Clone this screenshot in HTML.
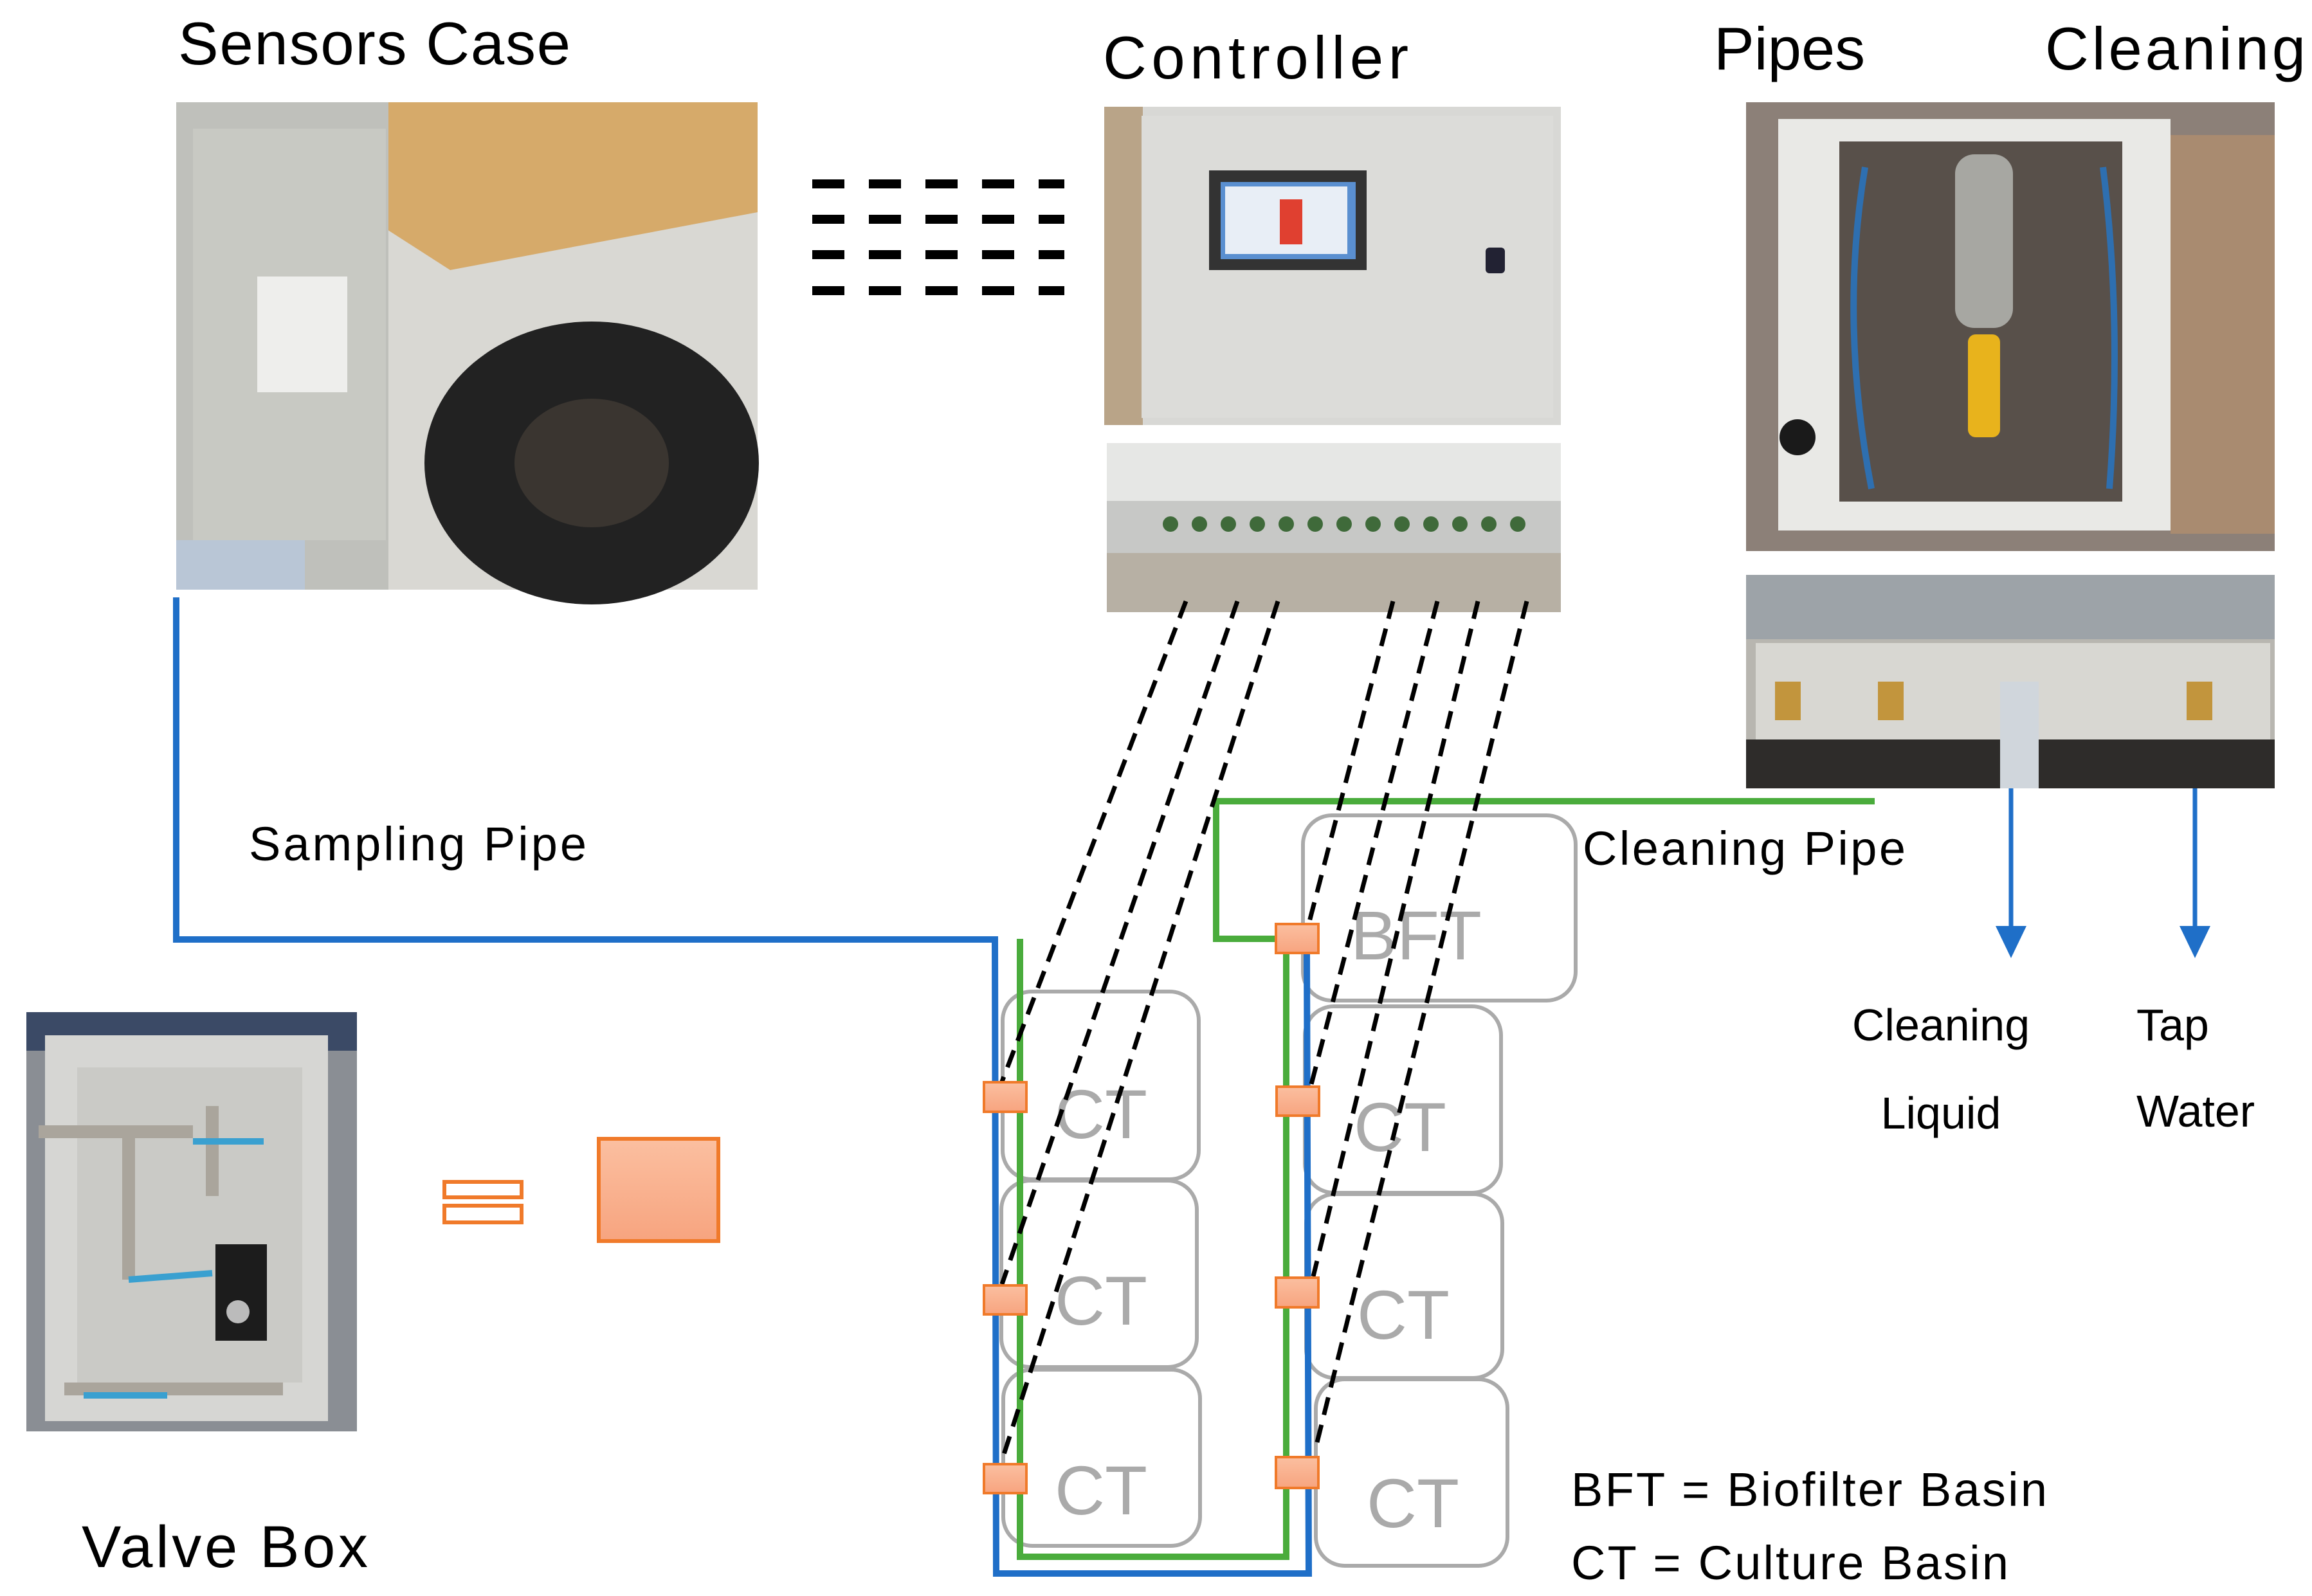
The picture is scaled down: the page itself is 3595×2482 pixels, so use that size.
<!DOCTYPE html>
<html><head><meta charset="utf-8"><style>
html,body{margin:0;padding:0;background:#fff;}
svg{display:block;}
text{font-family:"Liberation Sans",sans-serif;}
</style></head><body>
<svg width="3595" height="2482" viewBox="0 0 3595 2482" xmlns="http://www.w3.org/2000/svg">
<defs>
<linearGradient id="og" x1="0" y1="0" x2="0" y2="1"><stop offset="0" stop-color="#fbbfa0"/><stop offset="1" stop-color="#f7a47f"/></linearGradient>
</defs>
<!-- Titles -->
<text x="277" y="100" font-size="94" fill="#000" textLength="610">Sensors Case</text>
<text x="1715" y="122" font-size="94" fill="#000" textLength="475">Controller</text>
<text x="2665" y="108" font-size="94" fill="#000">Pipes</text>
<text x="3180" y="108" font-size="94" fill="#000" textLength="405">Cleaning</text>

<!-- Sensors case photo -->
<rect x="274" y="159" width="904" height="758" fill="#d9d8d3"/>
<polygon points="560,159 1178,159 1178,330 700,420 560,330" fill="#d6aa6a"/>
<rect x="274" y="159" width="330" height="758" fill="#bfc0bb"/>
<rect x="300" y="200" width="300" height="640" fill="#c8c9c3"/>
<rect x="400" y="430" width="140" height="180" fill="#eeeeec"/>
<ellipse cx="920" cy="720" rx="260" ry="220" fill="#222"/>
<ellipse cx="920" cy="720" rx="120" ry="100" fill="#3a3530"/>
<rect x="274" y="840" width="200" height="77" fill="#b9c6d6"/>

<!-- dashes between sensors and controller -->
<g stroke="#000" stroke-width="14" stroke-dasharray="50,38">
<line x1="1263" y1="286" x2="1655" y2="286"/>
<line x1="1263" y1="341" x2="1655" y2="341"/>
<line x1="1263" y1="396" x2="1655" y2="396"/>
<line x1="1263" y1="452" x2="1655" y2="452"/>
</g>

<!-- controller photo -->
<rect x="1717" y="166" width="710" height="495" fill="#d8d8d5"/>
<rect x="1717" y="166" width="60" height="495" fill="#b9a488"/>
<rect x="1775" y="180" width="640" height="470" fill="#dcdcd9"/>
<rect x="1880" y="265" width="245" height="155" fill="#333"/>
<rect x="1898" y="283" width="210" height="120" fill="#5a8fd0"/>
<rect x="1905" y="290" width="190" height="105" fill="#e8eef6"/>
<rect x="1990" y="310" width="35" height="70" fill="#e04030"/>
<rect x="2310" y="385" width="30" height="40" rx="6" fill="#223"/>

<!-- connector photo -->
<rect x="1721" y="689" width="706" height="263" fill="#c7c8c6"/>
<rect x="1721" y="689" width="706" height="90" fill="#e6e7e5"/>
<rect x="1721" y="860" width="706" height="92" fill="#b7b0a4"/>
<g fill="#3f6a3a">
<circle cx="1820" cy="815" r="12"/><circle cx="1865" cy="815" r="12"/><circle cx="1910" cy="815" r="12"/><circle cx="1955" cy="815" r="12"/><circle cx="2000" cy="815" r="12"/><circle cx="2045" cy="815" r="12"/><circle cx="2090" cy="815" r="12"/><circle cx="2135" cy="815" r="12"/><circle cx="2180" cy="815" r="12"/><circle cx="2225" cy="815" r="12"/><circle cx="2270" cy="815" r="12"/><circle cx="2315" cy="815" r="12"/><circle cx="2360" cy="815" r="12"/>
</g>

<!-- pipes cleaning photo -->
<rect x="2715" y="159" width="822" height="698" fill="#8c8078"/>
<rect x="2765" y="185" width="610" height="640" fill="#e9e9e6"/>
<rect x="2860" y="220" width="440" height="560" fill="#58504a"/>
<rect x="3375" y="210" width="162" height="620" fill="#a98b70"/>
<rect x="3040" y="240" width="90" height="270" rx="30" fill="#a7a7a2"/>
<rect x="3060" y="520" width="50" height="160" rx="12" fill="#e8b31c"/>
<path d="M2900 260 Q2860 500 2910 760 M3270 260 Q3300 500 3280 760" stroke="#2e6fb0" stroke-width="10" fill="none"/>
<circle cx="2795" cy="680" r="28" fill="#1a1a1a"/>

<!-- second pipes photo -->
<rect x="2715" y="894" width="822" height="332" fill="#b8b6b0"/>
<rect x="2715" y="894" width="822" height="100" fill="#9da3a8"/>
<rect x="2730" y="1000" width="800" height="150" fill="#d8d7d2"/>
<rect x="2715" y="1150" width="822" height="76" fill="#2e2c2a"/>
<g fill="#c2953d"><rect x="2760" y="1060" width="40" height="60"/><rect x="2920" y="1060" width="40" height="60"/><rect x="3400" y="1060" width="40" height="60"/></g>
<rect x="3110" y="1060" width="60" height="166" fill="#d0d6dc"/>

<!-- arrows from cleaning -->
<g stroke="#1f6fc8" stroke-width="7" fill="#1f6fc8">
<line x1="3127" y1="1226" x2="3127" y2="1450"/>
<line x1="3413" y1="1226" x2="3413" y2="1450"/>
</g>
<polygon points="3103,1440 3151,1440 3127,1490" fill="#1f6fc8"/>
<polygon points="3389,1440 3437,1440 3413,1490" fill="#1f6fc8"/>
<text x="3018" y="1618" font-size="70" text-anchor="middle">Cleaning</text>
<text x="3018" y="1755" font-size="70" text-anchor="middle">Liquid</text>
<text x="3322" y="1618" font-size="70">Tap</text>
<text x="3322" y="1752" font-size="70">Water</text>

<text x="387" y="1338" font-size="74" textLength="525">Sampling Pipe</text>
<text x="2461" y="1345" font-size="74" textLength="502">Cleaning Pipe</text>
<text x="2443" y="2342" font-size="74" textLength="740">BFT = Biofilter Basin</text>
<text x="2443" y="2456" font-size="74" textLength="680">CT = Culture Basin</text>

<!-- grey basins -->
<g fill="none" stroke="#aaa" stroke-width="6">
<rect x="2026" y="1268" width="424" height="288" rx="45"/>
<rect x="1559" y="1542" width="305" height="292" rx="45"/>
<rect x="1557" y="1836" width="304" height="290" rx="45"/>
<rect x="1560" y="2130" width="306" height="274" rx="45"/>
<rect x="2029" y="1565" width="305" height="290" rx="45"/>
<rect x="2031" y="1857" width="305" height="286" rx="45"/>
<rect x="2046" y="2145" width="298" height="290" rx="45"/>
</g>
<g fill="#aaa" font-size="108">
<text x="2100" y="1492">BFT</text>
<text x="1640" y="1770">CT</text>
<text x="1640" y="2060">CT</text>
<text x="1640" y="2355">CT</text>
<text x="2105" y="1790">CT</text>
<text x="2110" y="2082">CT</text>
<text x="2125" y="2375">CT</text>
</g>

<!-- pipes -->
<polyline points="274,929 274,1461 1547,1461 1549,2447 2035,2447 2032,1480" fill="none" stroke="#1f6fc8" stroke-width="10"/>
<polyline points="1586,1460 1586,2421 2000,2421 2000,1460 1891,1460 1891,1246 2915,1246" fill="none" stroke="#4aac3c" stroke-width="10"/>

<!-- dashed control lines -->
<g stroke="#000" stroke-width="7" stroke-dasharray="28,16">
<line x1="1844" y1="935" x2="1558" y2="1682"/>
<line x1="1924" y1="935" x2="1558" y2="1997"/>
<line x1="1987" y1="935" x2="1558" y2="2271"/>
<line x1="2166" y1="935" x2="2035" y2="1437"/>
<line x1="2235" y1="935" x2="2038" y2="1690"/>
<line x1="2298" y1="935" x2="2042" y2="1985"/>
<line x1="2374" y1="935" x2="2045" y2="2255"/>
</g>

<!-- valves -->
<g fill="url(#og)" stroke="#f07a2a" stroke-width="4">
<rect x="1530" y="1683" width="66" height="46"/>
<rect x="1530" y="1999" width="66" height="45"/>
<rect x="1530" y="2277" width="66" height="45"/>
<rect x="1984" y="1437" width="66" height="45"/>
<rect x="1985" y="1690" width="66" height="45"/>
<rect x="1984" y="1987" width="66" height="46"/>
<rect x="1984" y="2266" width="66" height="48"/>
</g>

<!-- valve box photo -->
<rect x="41" y="1574" width="514" height="652" fill="#8a8e94"/>
<rect x="41" y="1574" width="514" height="60" fill="#3b4a66"/>
<rect x="70" y="1610" width="440" height="600" fill="#d6d6d3"/>
<rect x="120" y="1660" width="350" height="490" fill="#cacac6"/>
<g stroke="#aaa59c" stroke-width="20"><line x1="60" y1="1760" x2="300" y2="1760"/><line x1="200" y1="1760" x2="200" y2="1990"/><line x1="330" y1="1720" x2="330" y2="1860"/><line x1="100" y1="2160" x2="440" y2="2160"/></g>
<g stroke="#3aa0d0" stroke-width="10"><line x1="300" y1="1775" x2="410" y2="1775"/><line x1="200" y1="1990" x2="330" y2="1980"/><line x1="130" y1="2170" x2="260" y2="2170"/></g>
<rect x="335" y="1935" width="80" height="150" fill="#1c1c1c"/>
<circle cx="370" cy="2040" r="18" fill="#bbb"/>
<text x="127" y="2437" font-size="92" textLength="445">Valve Box</text>

<!-- legend orange shapes -->
<g fill="#fff" stroke="#f07a2a" stroke-width="6">
<rect x="691" y="1838" width="120" height="24"/>
<rect x="691" y="1875" width="120" height="26"/>
</g>
<rect x="931" y="1771" width="186" height="159" fill="url(#og)" stroke="#f07a2a" stroke-width="6"/>
</svg>
</body></html>
